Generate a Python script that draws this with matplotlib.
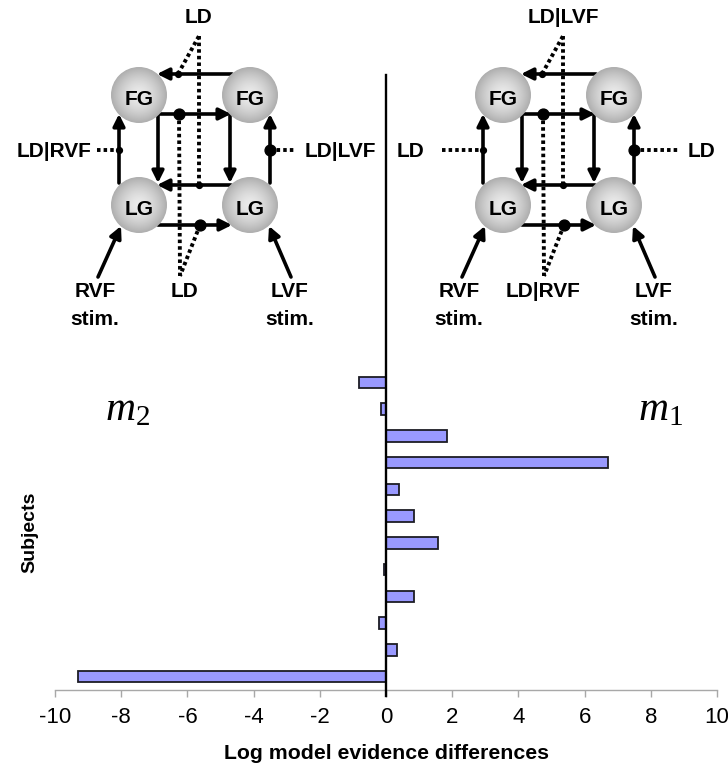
import numpy as np
import matplotlib.pyplot as plt
from matplotlib.patches import Circle

plt.rcParams['font.family'] = 'Liberation Sans'
plt.rcParams['mathtext.fontset'] = 'custom'
plt.rcParams['mathtext.it'] = 'Liberation Serif:italic'
plt.rcParams['mathtext.rm'] = 'Liberation Serif'

# log model evidence differences per subject, top to bottom
subjects = list(range(1, 13))
log_ev_diff = [-0.82, -0.16, 1.83, 6.72, 0.39, 0.86, 1.58, -0.07, 0.86, -0.20, 0.34, -9.31]
x_ticks = [-10, -8, -6, -4, -2, 0, 2, 4, 6, 8, 10]

W, H = 728, 775
fig = plt.figure(figsize=(W / 100, H / 100), dpi=100)

# bar chart of the subjects
ax = fig.add_axes([55 / W, 85 / H, 662 / W, 321 / H])
ax.barh(subjects, log_ev_diff, height=0.43, color='#9999ff',
        edgecolor='#1c1c24', linewidth=1.3, zorder=3)
ax.set_xlim(-10, 10)
ax.set_ylim(12.5, 0.5)
ax.set_xticks(x_ticks)
ax.set_xticklabels([str(t) for t in x_ticks], fontsize=16)
ax.set_yticks([])
for side in ['left', 'right', 'top']:
    ax.spines[side].set_visible(False)
ax.spines['bottom'].set_color('#a8a8a8')
ax.spines['bottom'].set_linewidth(1.0)
ax.tick_params(axis='x', direction='out', length=5, width=1.0, color='#a8a8a8', pad=7)
ax.axvline(0, ymin=-0.019, ymax=1.916, color='black', lw=1.7, clip_on=False, zorder=4)
ax.set_xlabel('Log model evidence differences', fontsize=15.3, fontweight='bold', labelpad=12)
fig.text(30 / W, 1 - 532 / H, 'Subjects', rotation=90, fontsize=14, fontweight='bold',
         ha='center', va='center')
ax.text(-7.8, 2.0, '$m_2$', fontsize=30, ha='center', va='center')
ax.text(8.3, 2.0, '$m_1$', fontsize=30, ha='center', va='center')

# overlay in pixel units for the two model diagrams
ov = fig.add_axes([0, 0, 1, 1])
ov.axis('off')

yy, xx = np.mgrid[-1:1:201j, -1:1:201j]
rr = np.sqrt(xx ** 2 + yy ** 2)
shade = np.clip(0.92 - 0.24 * rr ** 1.6, 0, 1)


def node(cx, cy, label, r=28):
    circ = Circle((cx, cy), r, facecolor='none', edgecolor='none', zorder=3)
    ov.add_patch(circ)
    im = ov.imshow(shade, cmap='gray', vmin=0, vmax=1, aspect='auto',
                   extent=(cx - r, cx + r, cy + r, cy - r), zorder=3)
    im.set_clip_path(circ)
    ov.text(cx, cy + 10, label, fontsize=15, fontweight='bold', ha='center',
            va='baseline', zorder=4)


def arrow(x0, y0, x1, y1):
    ov.annotate('', xy=(x1, y1), xytext=(x0, y0),
                arrowprops=dict(arrowstyle='-|>,head_length=0.5,head_width=0.25',
                                lw=2.6, color='black', shrinkA=0, shrinkB=0,
                                mutation_scale=14), zorder=2)


def line(x0, y0, x1, y1, dotted=False):
    ls = (0, (0.9, 0.8)) if dotted else '-'
    ov.plot([x0, x1], [y0, y1], color='black', lw=2.8, ls=ls,
            dash_capstyle='butt', solid_capstyle='butt', zorder=2)


def dot(x, y, big=False):
    ov.plot(x, y, 'o', color='black', ms=7.8 if big else 4.2, zorder=5)


def label(x, y, s, ha='center'):
    ov.text(x, y, s, fontsize=15, fontweight='bold', ha=ha, va='baseline')


def model(dx, top, bottom, bottom_x, left_end, right_end):
    node(dx + 139, 95, 'FG')
    node(dx + 250, 95, 'FG')
    node(dx + 139, 205, 'LG')
    node(dx + 250, 205, 'LG')

    arrow(dx + 232, 74, dx + 157, 74)
    arrow(dx + 158, 114, dx + 231, 114)
    arrow(dx + 158, 113, dx + 158, 183)
    arrow(dx + 230, 113, dx + 230, 183)
    arrow(dx + 231, 185, dx + 157, 185)
    arrow(dx + 158, 225, dx + 232, 225)
    arrow(dx + 119, 183, dx + 119, 114)
    arrow(dx + 270, 183, dx + 270, 114)
    arrow(dx + 98, 277, dx + 121, 226)
    arrow(dx + 291, 277, dx + 269, 226)

    line(dx + 178, 74, dx + 199, 36, dotted=True)
    line(dx + 199, 36, dx + 199, 185, dotted=True)
    line(dx + 179, 114, dx + 180, 276, dotted=True)
    line(dx + 200, 225, dx + 180, 276, dotted=True)
    line(left_end, 150, dx + 119, 150, dotted=True)
    line(dx + 270, 150, right_end, 150, dotted=True)

    dot(dx + 178, 74)
    dot(dx + 199, 185)
    dot(dx + 179, 114, big=True)
    dot(dx + 200, 225, big=True)
    dot(dx + 119, 150)
    dot(dx + 270, 150, big=True)

    label(dx + 199, 23, top)
    label(bottom_x, 297, bottom)
    label(dx + 95, 297, 'RVF')
    label(dx + 95, 325, 'stim.')
    label(dx + 290, 297, 'LVF')
    label(dx + 290, 325, 'stim.')


model(0, 'LD', 'LD', 184, 97, 294)
label(92, 157, 'LD|RVF', ha='right')
label(305, 157, 'LD|LVF', ha='left')

model(364, 'LD|LVF', 'LD|RVF', 543, 442, 679)
label(424, 157, 'LD', ha='right')
label(688, 157, 'LD', ha='left')

ov.set_xlim(0, W)
ov.set_ylim(H, 0)

fig.savefig('out.png', dpi=100, facecolor='white')
